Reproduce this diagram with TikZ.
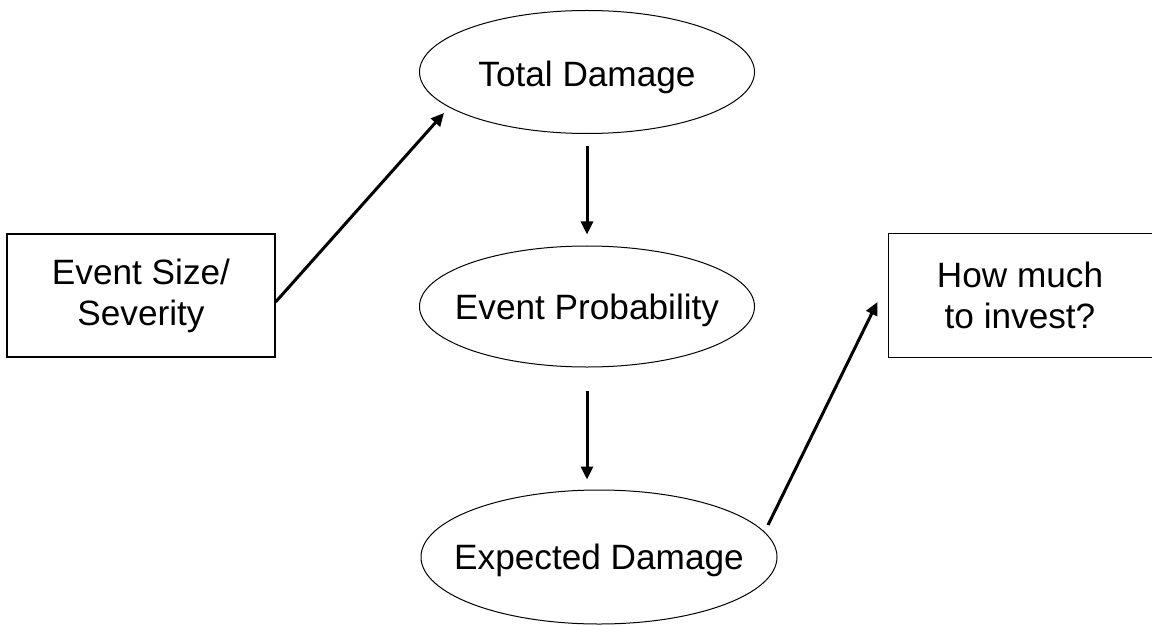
\documentclass[tikz,border=0pt]{standalone}
\usepackage{fontspec}
\setmainfont{Liberation Sans}
\usetikzlibrary{arrows.meta,calc,shapes.geometric}
\begin{document}
\begin{tikzpicture}[x=0.5bp,y=-0.5bp,
  every node/.style={font=\fontsize{17.6bp}{20.5bp}\selectfont},
  oval/.style={draw,ellipse,line width=0.5bp,inner xsep=-14bp,inner ysep=0pt,text depth=0pt},
  box/.style={draw,rectangle,line width=0.6bp,align=center,inner sep=0pt},
  boxline/.style={line width=0.6bp},
  arr/.style={line width=1.5bp,-{Triangle[length=6.5bp,width=6bp]}}]
\useasboundingbox (0,0) rectangle (1152,625);
\node[oval,minimum width=167.5bp,minimum height=61.5bp,text height=15bp] (td) at (587,72) {Total Damage};
\node[oval,minimum width=167.5bp,minimum height=60.5bp,text height=12.5bp] (ep) at (587,306.5) {Event Probability};
\node[oval,minimum width=178bp,minimum height=67bp,text height=12.5bp] (ed) at (599,557) {Expected Damage};
\node[box,minimum width=134bp,minimum height=61.5bp] (ev) at (141,295.5) {Event Size/\\Severity};
\node[box,draw=none,minimum width=131bp,minimum height=61.5bp] (hm) at (1020,295.5) {How much\\to invest?};
\draw[boxline] ($(hm.north east)+(10,0)$) -- (hm.north west) -- (hm.south west) -- ($(hm.south east)+(10,0)$);
\draw[arr] ($(ev.east)+(0,6.5)$) -- ($(td.center)+(-143,41)$);
\draw[arr,shorten <=6bp,shorten >=5.5bp] (td.south) -- (ep.north);
\draw[arr,shorten <=11.5bp,shorten >=5bp] (ep.south) -- (ep.south |- ed.north);
\draw[arr] ($(ed.center)+(169,-32)$) -- ($(hm.west)+(-11,6.5)$);
\end{tikzpicture}
\end{document}
